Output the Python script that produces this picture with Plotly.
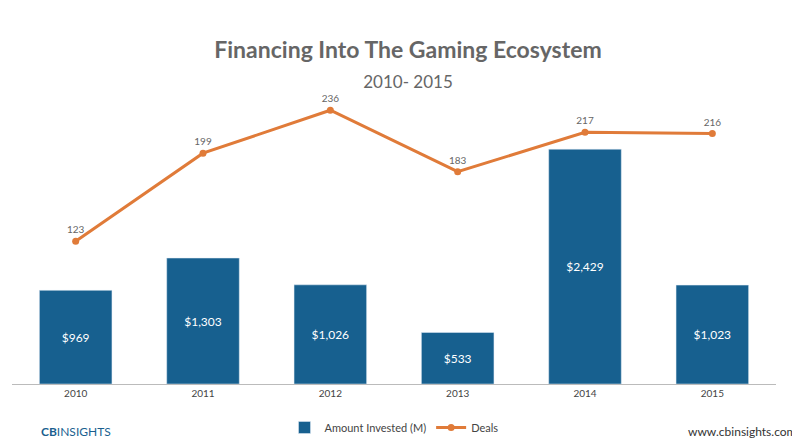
import plotly.graph_objects as go

years = ["2010", "2011", "2012", "2013", "2014", "2015"]
invested = [969, 1303, 1026, 533, 2429, 1023]
invested_labels = ["$969", "$1,303", "$1,026", "$533", "$2,429", "$1,023"]
deals = [123, 199, 236, 183, 217, 216]

fig = go.Figure()
fig.add_trace(go.Bar(x=years, y=invested, name="Amount Invested (M)", marker_color="#17608f",
                     text=invested_labels, textposition="inside", insidetextanchor="middle",
                     textfont=dict(color="white", size=12), width=0.57))
fig.add_trace(go.Scatter(x=years, y=deals, name="Deals", yaxis="y2", mode="lines+markers+text",
                         line=dict(color="#e07b39", width=3), marker=dict(size=7, color="#e07b39"),
                         text=[str(d) for d in deals], textposition="top center",
                         textfont=dict(color="#666", size=10)))
fig.update_layout(
    width=800, height=438, paper_bgcolor="white", plot_bgcolor="white",
    margin=dict(l=4, r=32, t=86, b=55),
    font=dict(family="Lato", color="#555"),
    title=dict(text="<b>Financing Into The Gaming Ecosystem</b><br><span style='font-size:17px'>2010- 2015</span>",
               x=0.5, y=0.885, xanchor="center", font=dict(size=23, color="#666")),
    xaxis=dict(showline=True, linecolor="#bbb", tickfont=dict(size=10, color="#444"), ticks=""),
    yaxis=dict(range=[0, 3000], visible=False),
    yaxis2=dict(range=[0, 250], overlaying="y", visible=False),
    legend=dict(orientation="h", x=0.5, xanchor="center", y=-0.1, yanchor="top", font=dict(size=11, color="#444")),
    showlegend=True, bargap=0.43,
)
fig.add_annotation(text="<b><span style='color:#1a5f8f'>CB</span></b><span style='color:#1a5f8f'>INSIGHTS</span>",
                   xref="paper", yref="paper", x=0.035, y=-0.13, xanchor="left", yanchor="top", showarrow=False,
                   font=dict(size=12))
fig.add_annotation(text="www.cbinsights.com", xref="paper", yref="paper", x=1.03, y=-0.13,
                   xanchor="right", yanchor="top", showarrow=False, font=dict(size=12, color="#333"))
fig.write_html("out.html")
